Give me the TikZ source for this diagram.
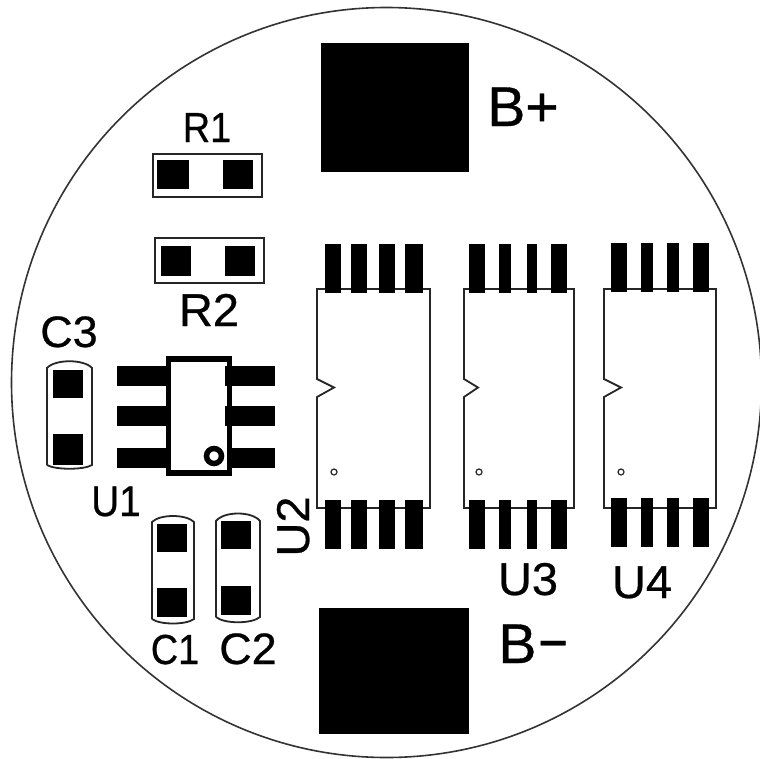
\documentclass[tikz,border=0pt]{standalone}
\usepackage{fontspec}
\setmainfont{Liberation Sans}
\newfontfamily\pcbfont[FakeStretch=0.9,FakeBold=0.6]{Liberation Sans}
\newfontfamily\pcbwide[FakeStretch=1.02,FakeBold=0.6]{Liberation Sans}
\tikzset{
  x=1pt,y=-1pt,
  pad/.style={fill=black,draw=none},
  outline/.style={draw=black!85,line width=1.8pt,line join=miter},
  board/.style={draw=black!80,line width=1.6pt},
  lab/.style={inner sep=0pt,anchor=base,text=black,font={\pcbfont\fontsize{#1}{#1}\selectfont}},
  lab/.default=42,
  labw/.style={inner sep=0pt,anchor=base,text=black,font={\pcbwide\fontsize{#1}{#1}\selectfont}},
  labw/.default=44
}
\newcommand{\pinrow}[3]{\foreach \a/\b in {#1}{\fill[pad] (\a,#2) rectangle (\b,#3);}}
\newcommand{\soic}[6]{% left right pins tipX topY botY
  \draw[outline] (#1,289) -- (#2,289) -- (#2,508) -- (#1,508) -- (#1,397) -- (#4,387.5) -- (#1,379) -- cycle;
  \pinrow{#3}{#5}{#5+49}
  \pinrow{#3}{#6}{#6+49}
}
\begin{document}
\begin{tikzpicture}
\useasboundingbox (0,0) rectangle (760,758);
\fill[white] (0,0) rectangle (760,758);
\draw[board] (386.5,382.5) circle[radius=375];
% battery pads
\fill[pad] (321,43) rectangle (469,172);
\fill[pad] (319,608) rectangle (469,734);
\node[labw=56] (bplus) at (523,126) {B+};
\node[labw=56] (bminus) at (534,663) {B\raisebox{5pt}{\scalebox{1.75}[1]{-}}};
% resistors
\draw[outline] (153,154) rectangle (262,197);
\fill[pad] (157,160) rectangle (189,189);
\fill[pad] (223,160) rectangle (253,189);
\node[lab] (r1) at (207,142) {R1};
\draw[outline] (155,238) rectangle (264,283);
\fill[pad] (161,246) rectangle (191,276);
\fill[pad] (225,246) rectangle (255,276);
\node[labw=46] (r2) at (209,326) {R2};
% capacitors
\draw[outline] (47,465) -- (47,368) .. controls (55,359) and (84,359) .. (92,368) -- (92,465) .. controls (84,470) and (55,470) .. (47,465);
\fill[pad] (53,370) rectangle (83,398);
\fill[pad] (53,434) rectangle (83,465);
\node[labw] (c3) at (69,347) {C3};
\draw[outline] (152,619) -- (152,522) .. controls (160,514) and (186,514) .. (194,522) -- (194,619) .. controls (186,625) and (160,625) .. (152,619);
\fill[pad] (157,524) rectangle (187,552);
\fill[pad] (157,588) rectangle (187,617);
\node[lab] (c1) at (175,664) {C1};
\draw[outline] (216,617) -- (216,521) .. controls (224,511) and (252,511) .. (260,521) -- (260,617) .. controls (252,624) and (224,624) .. (216,617);
\fill[pad] (221,521) rectangle (251,549);
\fill[pad] (221,586) rectangle (251,615);
\node[labw] (c2) at (248,664) {C2};
% U1
\foreach \ya/\yb in {366/386,406/426,448/468}{
  \fill[pad] (117,\ya) rectangle (168,\yb);
  \fill[pad] (227,\ya) rectangle (275,\yb);
}
\draw[line width=5.5pt,draw=black,fill=white] (168.5,359) rectangle (229.5,473);
\fill[pad] (225,366) rectangle (232,386);
\fill[pad] (225,406) rectangle (232,426);
\draw[line width=5.5pt,draw=black,fill=white] (214,456) circle[radius=7.5];
\node[lab=43] (u1) at (116,516) {U1};
% U2, U3, U4
\soic{317}{430}{325/341,351/367,379/395,405/423}{334}{244}{500}
\draw[outline,line width=1.2pt] (334,472) circle[radius=3];
\node[labw=46,rotate=90] (u2) at (309,526.5) {U2};
\soic{464}{574}{469/485,499/511,527/537,551/567}{478}{244}{500}
\draw[outline,line width=1.2pt] (479,472) circle[radius=3];
\node[labw=46] (u3) at (528,595) {U3};
\soic{604}{716}{611/627,641/653,667/679,693/709}{621}{243}{498}
\draw[outline,line width=1.2pt] (621,472) circle[radius=3];
\node[labw=46] (u4) at (642,598) {U4};
\end{tikzpicture}
\end{document}
